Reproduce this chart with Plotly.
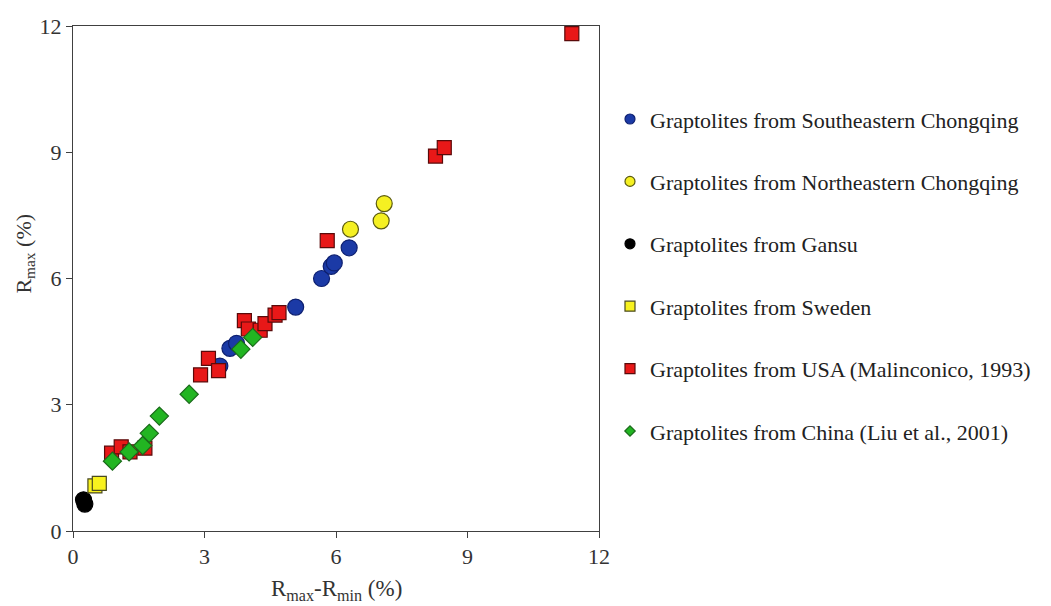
import plotly.graph_objects as go

# Data (Rmax-Rmin, Rmax) in %
se_cq_x = [3.35, 3.58, 3.73, 5.08, 5.67, 5.89, 5.96, 6.30]
se_cq_y = [3.92, 4.34, 4.46, 5.32, 6.00, 6.29, 6.37, 6.73]

ne_cq_x = [6.33, 7.03, 7.10]
ne_cq_y = [7.17, 7.37, 7.78]

gansu_x = [0.24, 0.27]
gansu_y = [0.74, 0.64]

sweden_x = [0.50, 0.60]
sweden_y = [1.07, 1.13]

usa_x = [0.88, 1.10, 1.30, 1.64, 2.91, 3.09, 3.32, 3.91, 4.00, 4.27, 4.38, 4.61, 4.70, 5.80, 8.27, 8.47, 11.38]
usa_y = [1.85, 2.00, 1.88, 1.97, 3.71, 4.10, 3.81, 5.00, 4.80, 4.77, 4.93, 5.13, 5.19, 6.90, 8.91, 9.11, 11.82]

china_x = [0.90, 1.28, 1.59, 1.74, 1.97, 2.65, 3.83, 4.10]
china_y = [1.66, 1.88, 2.03, 2.32, 2.73, 3.25, 4.32, 4.60]

x_ticks = [0, 3, 6, 9, 12]
y_ticks = [0, 3, 6, 9, 12]

series = [
    ("Graptolites from Southeastern Chongqing", se_cq_x, se_cq_y, "circle", 16, "#1b3aa6", "#0e2070"),
    ("Graptolites from Northeastern Chongqing", ne_cq_x, ne_cq_y, "circle", 16, "#f5f022", "#5a5a10"),
    ("Graptolites from Gansu", gansu_x, gansu_y, "circle", 16, "#000000", "#000000"),
    ("Graptolites from Sweden", sweden_x, sweden_y, "square", 14, "#f8f21e", "#4a4a20"),
    ("Graptolites from USA (Malinconico, 1993)", usa_x, usa_y, "square", 14, "#e81818", "#5a0a0a"),
    ("Graptolites from China (Liu et al., 2001)", china_x, china_y, "diamond", 14, "#22b522", "#1a6a1a"),
]

FONT = "Liberation Serif, Times New Roman, serif"
TXT = "#333333"

fig = go.Figure()
for name, xs, ys, sym, size, fill, edge in series:
    fig.add_trace(go.Scatter(
        x=xs, y=ys, mode="markers", name=name, showlegend=False,
        marker=dict(symbol=sym, size=size, color=fill, line=dict(color=edge, width=1.2)),
    ))
for i, (name, xs, ys, sym, size, fill, edge) in enumerate(series):
    fig.add_trace(go.Scatter(
        x=[None], y=[None], mode="markers", name=name, legendgroup=f"g{i}",
        marker=dict(symbol=sym, size=10 if sym != "diamond" else 8, color=fill,
                    line=dict(color=edge, width=1.2)),
    ))

axis_common = dict(
    showline=True, linecolor="#404040", linewidth=1, mirror=True,
    ticks="outside", ticklen=6, tickcolor="#404040", tickwidth=1,
    showgrid=False, zeroline=False, automargin=False,
    tickfont=dict(family=FONT, size=22, color=TXT),
)

fig.update_xaxes(range=[0, 12], tickvals=x_ticks, ticktext=[str(v) for v in x_ticks], **axis_common)
fig.update_yaxes(range=[0, 12], tickvals=y_ticks, ticktext=[str(v) for v in y_ticks], **axis_common)

fig.add_annotation(text="R<sub>max</sub>-R<sub>min</sub> (%)", xref="paper", yref="paper",
                   x=0.5, y=-0.1168, xanchor="center", yanchor="middle", showarrow=False,
                   font=dict(family=FONT, size=23, color=TXT))
fig.add_annotation(text="R<sub>max</sub> (%)", xref="paper", yref="paper",
                   x=-0.092, y=0.5485, xanchor="center", yanchor="middle", showarrow=False,
                   textangle=-90, font=dict(family=FONT, size=22, color=TXT))

fig.update_layout(
    width=1043, height=598,
    margin=dict(l=65, r=452, t=18, b=75, autoexpand=False),
    paper_bgcolor="white", plot_bgcolor="white",
    showlegend=True,
    legend=dict(
        x=1.0209, y=0.857, xanchor="left", yanchor="top",
        font=dict(family=FONT, size=22, color="#222222"),
        traceorder="grouped", tracegroupgap=30.8,
        itemwidth=30, bgcolor="rgba(0,0,0,0)",
    ),
)

fig.write_html("out.html")
